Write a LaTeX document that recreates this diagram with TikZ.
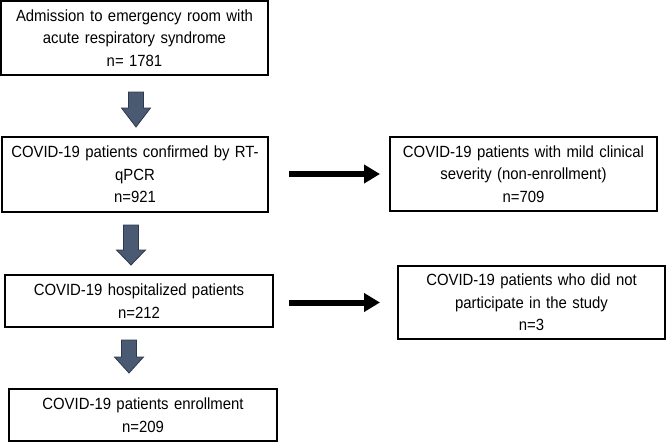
\documentclass[tikz,border=0pt]{standalone}
\usepackage{fontspec}
\setmainfont{Liberation Sans}[FakeStretch=0.92]
\usetikzlibrary{arrows.meta}
\definecolor{arrfill}{HTML}{4A5A72}
\definecolor{arredge}{HTML}{2E3A4C}
\begin{document}
\begin{tikzpicture}[x=1pt,y=-1pt,
  box/.style={draw=black,line width=2pt,align=center,inner sep=0pt,
    font=\fontsize{16.2}{22.5}\selectfont,text width=#1},
  box/.default=260pt,
  sidearrow/.style={line width=6pt,-{Triangle[length=16pt,width=18pt]}},
  blockarrow/.style={fill=arrfill,draw=arredge,line width=0.8pt,line join=miter}]
\useasboundingbox (0,0) rectangle (666,442);
\node[box,minimum width=267pt,minimum height=74pt] (b1) at (134.5,38)
  {Admission to emergency room with\\acute respiratory syndrome\\n= 1781};
\node[box,minimum width=266pt,minimum height=75pt] (b2) at (135,174.5)
  {COVID-19 patients confirmed by RT-\\qPCR\\n=921};
\node[box,minimum width=268pt,minimum height=52pt] (b3) at (139,301)
  {COVID-19 hospitalized patients\\n=212};
\node[box,minimum width=268pt,minimum height=52pt] (b4) at (143,415)
  {COVID-19 patients enrollment\\n=209};
\node[box,minimum width=267pt,minimum height=74pt] (r1) at (523.5,174)
  {COVID-19 patients with mild clinical\\severity (non-enrollment)\\n=709};
\node[box,minimum width=267pt,minimum height=73pt] (r2) at (531.5,302.5)
  {COVID-19 patients who did not\\participate in the study\\n=3};
% block arrows
\newcommand{\blkarrow}[4]{%
  \draw[blockarrow] (#1-7.5,#2) -- (#1+7.5,#2) -- (#1+7.5,#3) -- (#1+14.5,#3)
    -- (#1,#4) -- (#1-14.5,#3) -- (#1-7.5,#3) -- cycle;}
\blkarrow{136}{92}{108}{127}
\blkarrow{131}{225}{250}{265}
\blkarrow{129}{340}{357}{373}
% side arrows
\draw[sidearrow] ([xshift=20pt]b2.east|-r1.west) -- ([xshift=-9pt]r1.west);
\draw[sidearrow] ([xshift=15pt]b3.east|-r2.west) -- ([xshift=-17pt]r2.west);
\end{tikzpicture}
\end{document}
